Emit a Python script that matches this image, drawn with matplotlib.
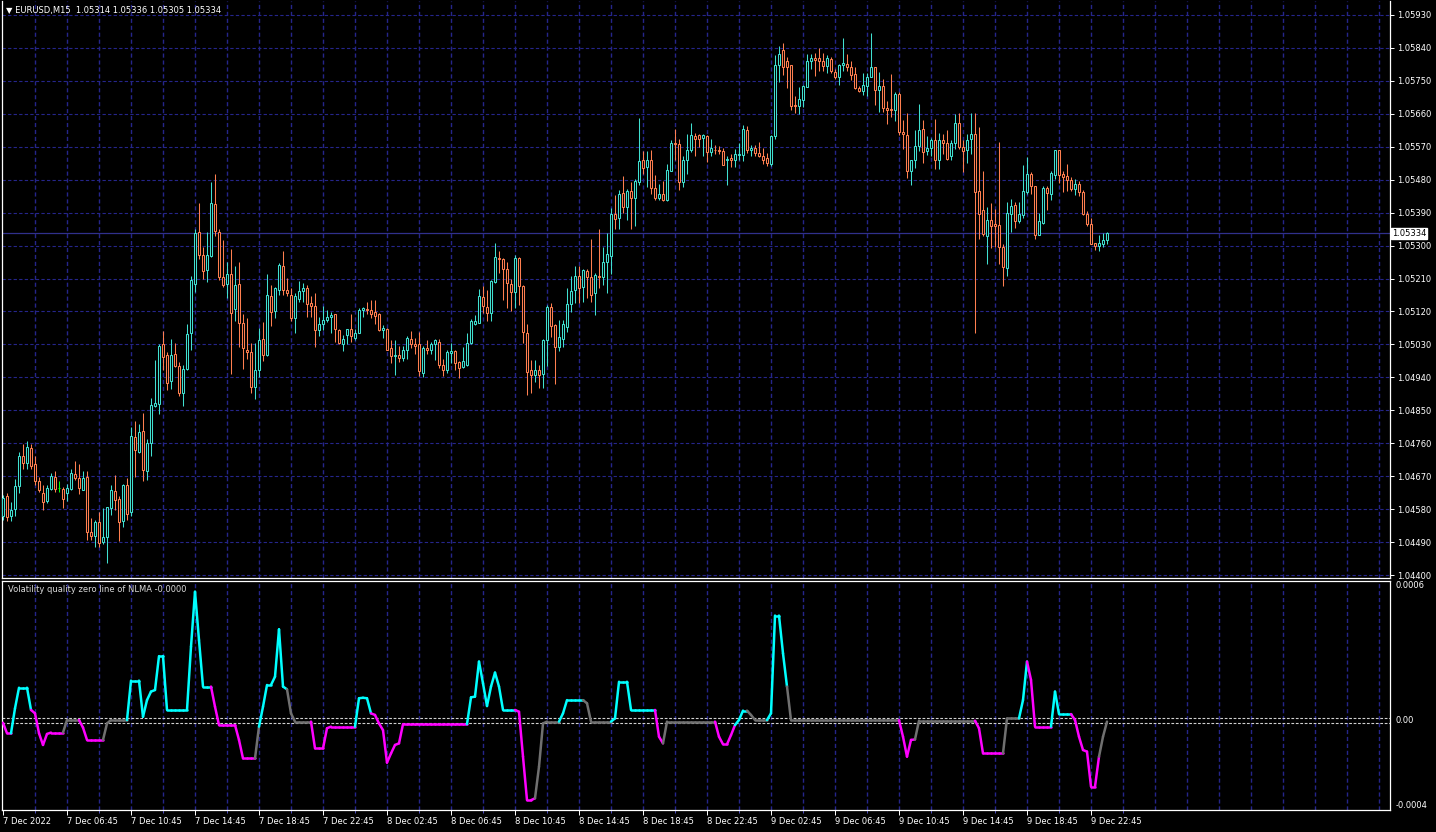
import matplotlib
matplotlib.use("Agg")
import matplotlib.pyplot as plt
import matplotlib.transforms as mtransforms
from matplotlib.collections import LineCollection

# EURUSD M15, 7 Dec 02:45 .. 9 Dec 23:45 (277 bars)
open_ = [1.04560, 1.04616, 1.04560, 1.04580, 1.04642, 1.04725, 1.04707, 1.04747, 1.04703, 1.04656,
         1.04624, 1.04601, 1.04635, 1.04667, 1.04637, 1.04635, 1.04623, 1.04635, 1.04675, 1.04664,
         1.04633, 1.04667, 1.04517, 1.04508, 1.04545, 1.04489, 1.04504, 1.04584, 1.04630, 1.04608,
         1.04549, 1.04646, 1.04571, 1.04776, 1.04737, 1.04794, 1.04683, 1.04760, 1.04862, 1.04868,
         1.05030, 1.05000, 1.04930, 1.05003, 1.04970, 1.04896, 1.04962, 1.05061, 1.05196, 1.05338,
         1.05273, 1.05234, 1.05271, 1.05414, 1.05338, 1.05215, 1.05194, 1.05221, 1.05126, 1.05195,
         1.05089, 1.05015, 1.05010, 1.04913, 1.04960, 1.05044, 1.05000, 1.05161, 1.05120, 1.05179,
         1.05245, 1.05179, 1.05165, 1.05102, 1.05155, 1.05175, 1.05185, 1.05143, 1.05136, 1.05070,
         1.05086, 1.05096, 1.05104, 1.05112, 1.05070, 1.05030, 1.05057, 1.05073, 1.05047, 1.05061,
         1.05124, 1.05127, 1.05124, 1.05118, 1.05112, 1.05070, 1.05073, 1.05021, 1.04998, 1.05002,
         1.04994, 1.05015, 1.05045, 1.05032, 1.05030, 1.04953, 1.05020, 1.05014, 1.05030, 1.05036,
         1.04975, 1.04961, 1.05006, 1.05011, 1.04982, 1.04968, 1.04975, 1.05035, 1.05086, 1.05088,
         1.05160, 1.05133, 1.05115, 1.05201, 1.05266, 1.05262, 1.05235, 1.05196, 1.05174, 1.05265,
         1.05190, 1.05060, 1.04960, 1.04946, 1.04960, 1.04949, 1.05042, 1.05133, 1.05083, 1.05022,
         1.05046, 1.05078, 1.05140, 1.05178, 1.05216, 1.05188, 1.05230, 1.05215, 1.05171, 1.05216,
         1.05213, 1.05254, 1.05272, 1.05385, 1.05376, 1.05444, 1.05405, 1.05448, 1.05430, 1.05473,
         1.05533, 1.05515, 1.05533, 1.05458, 1.05430, 1.05440, 1.05424, 1.05503, 1.05581, 1.05578,
         1.05474, 1.05533, 1.05560, 1.05598, 1.05601, 1.05594, 1.05598, 1.05555, 1.05562, 1.05562,
         1.05557, 1.05535, 1.05540, 1.05533, 1.05547, 1.05547, 1.05617, 1.05560, 1.05566, 1.05553,
         1.05546, 1.05539, 1.05524, 1.05598, 1.05794, 1.05833, 1.05805, 1.05792, 1.05685, 1.05681,
         1.05697, 1.05733, 1.05803, 1.05813, 1.05812, 1.05805, 1.05790, 1.05810, 1.05775, 1.05760,
         1.05792, 1.05796, 1.05787, 1.05769, 1.05731, 1.05722, 1.05737, 1.05760, 1.05789, 1.05726,
         1.05735, 1.05676, 1.05674, 1.05669, 1.05715, 1.05610, 1.05603, 1.05503, 1.05533, 1.05571,
         1.05619, 1.05557, 1.05566, 1.05587, 1.05533, 1.05587, 1.05581, 1.05545, 1.05581, 1.05635,
         1.05569, 1.05560, 1.05592, 1.05604, 1.05448, 1.05396, 1.05325, 1.05369, 1.05360, 1.05355,
         1.05296, 1.05238, 1.05387, 1.05410, 1.05367, 1.05383, 1.05446, 1.05495, 1.05462, 1.05328,
         1.05362, 1.05457, 1.05440, 1.05492, 1.05560, 1.05495, 1.05489, 1.05480, 1.05455, 1.05469,
         1.05445, 1.05387, 1.05360, 1.05308, 1.05298, 1.05305, 1.05314]
high = [1.04620, 1.04624, 1.04599, 1.04662, 1.04737, 1.04758, 1.04765, 1.04758, 1.04725, 1.04669,
        1.04645, 1.04646, 1.04680, 1.04683, 1.04657, 1.04641, 1.04649, 1.04689, 1.04712, 1.04704,
        1.04683, 1.04683, 1.04555, 1.04550, 1.04571, 1.04582, 1.04587, 1.04646, 1.04674, 1.04616,
        1.04649, 1.04665, 1.04804, 1.04820, 1.04813, 1.04842, 1.04772, 1.04884, 1.04988, 1.05032,
        1.05068, 1.05009, 1.05045, 1.05035, 1.04982, 1.04975, 1.05086, 1.05218, 1.05345, 1.05415,
        1.05295, 1.05336, 1.05473, 1.05495, 1.05345, 1.05316, 1.05255, 1.05291, 1.05245, 1.05256,
        1.05112, 1.05103, 1.05034, 1.05034, 1.05075, 1.05091, 1.05221, 1.05191, 1.05188, 1.05252,
        1.05286, 1.05212, 1.05185, 1.05171, 1.05202, 1.05197, 1.05191, 1.05161, 1.05170, 1.05106,
        1.05134, 1.05123, 1.05118, 1.05114, 1.05073, 1.05055, 1.05073, 1.05112, 1.05073, 1.05129,
        1.05132, 1.05145, 1.05150, 1.05152, 1.05115, 1.05082, 1.05075, 1.05041, 1.05043, 1.05025,
        1.05026, 1.05052, 1.05068, 1.05048, 1.05065, 1.05025, 1.05041, 1.05036, 1.05045, 1.05044,
        1.04991, 1.05014, 1.05034, 1.05016, 1.04986, 1.05023, 1.05061, 1.05100, 1.05109, 1.05181,
        1.05189, 1.05178, 1.05207, 1.05308, 1.05285, 1.05265, 1.05254, 1.05210, 1.05274, 1.05269,
        1.05192, 1.05085, 1.04987, 1.04987, 1.04974, 1.05046, 1.05137, 1.05142, 1.05085, 1.05096,
        1.05096, 1.05185, 1.05216, 1.05244, 1.05244, 1.05237, 1.05237, 1.05317, 1.05225, 1.05345,
        1.05296, 1.05333, 1.05403, 1.05437, 1.05451, 1.05489, 1.05455, 1.05474, 1.05481, 1.05649,
        1.05557, 1.05557, 1.05562, 1.05492, 1.05469, 1.05476, 1.05522, 1.05587, 1.05619, 1.05592,
        1.05545, 1.05605, 1.05635, 1.05608, 1.05605, 1.05605, 1.05601, 1.05590, 1.05576, 1.05571,
        1.05567, 1.05545, 1.05551, 1.05565, 1.05580, 1.05630, 1.05626, 1.05575, 1.05575, 1.05583,
        1.05566, 1.05553, 1.05601, 1.05821, 1.05846, 1.05854, 1.05815, 1.05792, 1.05708, 1.05733,
        1.05739, 1.05824, 1.05824, 1.05826, 1.05840, 1.05826, 1.05821, 1.05815, 1.05783, 1.05796,
        1.05867, 1.05824, 1.05803, 1.05787, 1.05737, 1.05772, 1.05772, 1.05881, 1.05789, 1.05774,
        1.05754, 1.05696, 1.05769, 1.05720, 1.05720, 1.05642, 1.05663, 1.05535, 1.05617, 1.05687,
        1.05642, 1.05598, 1.05594, 1.05645, 1.05608, 1.05605, 1.05617, 1.05589, 1.05660, 1.05663,
        1.05587, 1.05605, 1.05663, 1.05663, 1.05625, 1.05505, 1.05405, 1.05416, 1.05401, 1.05583,
        1.05305, 1.05419, 1.05426, 1.05419, 1.05419, 1.05519, 1.05542, 1.05501, 1.05462, 1.05389,
        1.05462, 1.05462, 1.05504, 1.05560, 1.05562, 1.05504, 1.05522, 1.05487, 1.05483, 1.05475,
        1.05451, 1.05394, 1.05374, 1.05308, 1.05328, 1.05333, 1.05336]
low = [1.04550, 1.04549, 1.04549, 1.04562, 1.04625, 1.04689, 1.04689, 1.04689, 1.04646, 1.04627,
       1.04578, 1.04596, 1.04633, 1.04628, 1.04628, 1.04584, 1.04601, 1.04633, 1.04660, 1.04622,
       1.04631, 1.04495, 1.04495, 1.04476, 1.04476, 1.04485, 1.04433, 1.04564, 1.04578, 1.04492,
       1.04531, 1.04551, 1.04562, 1.04669, 1.04733, 1.04658, 1.04660, 1.04725, 1.04859, 1.04840,
       1.04959, 1.04905, 1.04909, 1.04968, 1.04888, 1.04861, 1.04960, 1.05014, 1.05173, 1.05264,
       1.05209, 1.05200, 1.05270, 1.05327, 1.05206, 1.05186, 1.05157, 1.04950, 1.05095, 1.05023,
       1.04964, 1.04991, 1.04897, 1.04882, 1.04941, 1.04985, 1.04998, 1.05079, 1.05102, 1.05164,
       1.05164, 1.05161, 1.05095, 1.05061, 1.05145, 1.05145, 1.05105, 1.05105, 1.05023, 1.05052,
       1.05070, 1.05091, 1.05061, 1.05036, 1.05030, 1.05012, 1.05032, 1.05036, 1.05041, 1.05060,
       1.05104, 1.05114, 1.05103, 1.05086, 1.05068, 1.05048, 1.05014, 1.04979, 1.04946, 1.04982,
       1.04986, 1.04991, 1.05020, 1.05005, 1.04943, 1.04941, 1.05005, 1.05003, 1.04988, 1.04966,
       1.04945, 1.04952, 1.04979, 1.04959, 1.04939, 1.04966, 1.04970, 1.05032, 1.05082, 1.05088,
       1.05117, 1.05095, 1.05095, 1.05198, 1.05224, 1.05151, 1.05130, 1.05122, 1.05130, 1.05137,
       1.05035, 1.04892, 1.04898, 1.04928, 1.04910, 1.04910, 1.04971, 1.05051, 1.04922, 1.05013,
       1.05022, 1.05063, 1.05119, 1.05142, 1.05142, 1.05146, 1.05158, 1.05146, 1.05110, 1.05183,
       1.05192, 1.05171, 1.05222, 1.05346, 1.05346, 1.05389, 1.05371, 1.05344, 1.05353, 1.05465,
       1.05496, 1.05460, 1.05442, 1.05424, 1.05424, 1.05422, 1.05422, 1.05503, 1.05535, 1.05451,
       1.05460, 1.05495, 1.05555, 1.05546, 1.05569, 1.05546, 1.05528, 1.05546, 1.05550, 1.05550,
       1.05519, 1.05465, 1.05515, 1.05515, 1.05533, 1.05531, 1.05553, 1.05545, 1.05545, 1.05542,
       1.05524, 1.05516, 1.05516, 1.05590, 1.05748, 1.05766, 1.05730, 1.05669, 1.05663, 1.05660,
       1.05678, 1.05733, 1.05783, 1.05763, 1.05778, 1.05778, 1.05772, 1.05771, 1.05754, 1.05739,
       1.05778, 1.05776, 1.05751, 1.05728, 1.05719, 1.05710, 1.05708, 1.05760, 1.05685, 1.05666,
       1.05666, 1.05633, 1.05651, 1.05639, 1.05603, 1.05565, 1.05485, 1.05465, 1.05512, 1.05557,
       1.05526, 1.05548, 1.05546, 1.05510, 1.05510, 1.05551, 1.05535, 1.05535, 1.05565, 1.05565,
       1.05501, 1.05525, 1.05551, 1.05060, 1.05319, 1.05325, 1.05249, 1.05292, 1.05296, 1.05251,
       1.05189, 1.05216, 1.05337, 1.05349, 1.05362, 1.05374, 1.05442, 1.05440, 1.05319, 1.05328,
       1.05358, 1.05396, 1.05424, 1.05481, 1.05471, 1.05446, 1.05449, 1.05449, 1.05437, 1.05435,
       1.05383, 1.05354, 1.05304, 1.05287, 1.05285, 1.05296, 1.05305]
close = [1.04610, 1.04558, 1.04578, 1.04644, 1.04725, 1.04707, 1.04749, 1.04699, 1.04658, 1.04631,
         1.04599, 1.04637, 1.04671, 1.04635, 1.04637, 1.04608, 1.04637, 1.04680, 1.04664, 1.04639,
         1.04664, 1.04519, 1.04508, 1.04545, 1.04487, 1.04504, 1.04585, 1.04633, 1.04605, 1.04546,
         1.04646, 1.04567, 1.04780, 1.04742, 1.04792, 1.04687, 1.04762, 1.04864, 1.04871, 1.05027,
         1.04995, 1.04925, 1.05000, 1.04970, 1.04897, 1.04964, 1.05059, 1.05205, 1.05335, 1.05275,
         1.05230, 1.05273, 1.05416, 1.05339, 1.05214, 1.05193, 1.05223, 1.05115, 1.05191, 1.05088,
         1.05020, 1.05009, 1.04915, 1.04961, 1.05041, 1.05000, 1.05164, 1.05118, 1.05185, 1.05248,
         1.05180, 1.05170, 1.05102, 1.05161, 1.05175, 1.05184, 1.05141, 1.05135, 1.05070, 1.05086,
         1.05098, 1.05106, 1.05109, 1.05073, 1.05034, 1.05045, 1.05073, 1.05053, 1.05062, 1.05125,
         1.05129, 1.05124, 1.05114, 1.05108, 1.05070, 1.05075, 1.05016, 1.04998, 1.05002, 1.04994,
         1.05015, 1.05048, 1.05030, 1.05027, 1.04957, 1.05019, 1.05014, 1.05030, 1.05041, 1.04975,
         1.04961, 1.05008, 1.05011, 1.04979, 1.04965, 1.04984, 1.05035, 1.05093, 1.05093, 1.05162,
         1.05135, 1.05116, 1.05203, 1.05269, 1.05263, 1.05235, 1.05198, 1.05174, 1.05267, 1.05190,
         1.05063, 1.04955, 1.04946, 1.04960, 1.04946, 1.05042, 1.05131, 1.05081, 1.05022, 1.05049,
         1.05085, 1.05140, 1.05175, 1.05216, 1.05185, 1.05233, 1.05215, 1.05166, 1.05219, 1.05213,
         1.05254, 1.05278, 1.05385, 1.05372, 1.05442, 1.05405, 1.05449, 1.05431, 1.05475, 1.05530,
         1.05513, 1.05535, 1.05458, 1.05431, 1.05442, 1.05424, 1.05507, 1.05581, 1.05578, 1.05474,
         1.05533, 1.05562, 1.05601, 1.05590, 1.05592, 1.05601, 1.05555, 1.05567, 1.05560, 1.05557,
         1.05521, 1.05537, 1.05533, 1.05549, 1.05549, 1.05619, 1.05562, 1.05566, 1.05554, 1.05545,
         1.05533, 1.05525, 1.05598, 1.05794, 1.05824, 1.05787, 1.05787, 1.05681, 1.05680, 1.05699,
         1.05735, 1.05803, 1.05812, 1.05808, 1.05803, 1.05790, 1.05813, 1.05776, 1.05760, 1.05792,
         1.05799, 1.05787, 1.05767, 1.05730, 1.05722, 1.05739, 1.05760, 1.05789, 1.05726, 1.05735,
         1.05676, 1.05671, 1.05669, 1.05715, 1.05610, 1.05605, 1.05505, 1.05533, 1.05571, 1.05617,
         1.05555, 1.05566, 1.05587, 1.05533, 1.05589, 1.05581, 1.05537, 1.05581, 1.05635, 1.05569,
         1.05558, 1.05589, 1.05604, 1.05446, 1.05387, 1.05331, 1.05369, 1.05353, 1.05353, 1.05296,
         1.05242, 1.05390, 1.05407, 1.05367, 1.05385, 1.05448, 1.05496, 1.05463, 1.05328, 1.05366,
         1.05457, 1.05444, 1.05498, 1.05560, 1.05492, 1.05487, 1.05480, 1.05455, 1.05469, 1.05445,
         1.05385, 1.05360, 1.05305, 1.05299, 1.05307, 1.05315, 1.05334]

# indicator (units of 1e-5)
vq = [-0.9, -5.5, -5.5, 5.4, 14.4, 14.4, 14.4, 4.7, 3.2, -5.5,
      -10.6, -5.8, -5.2, -5.2, -5.2, -5.2, 0.3, 0.3, 0.3, 0.3,
      -3.0, -8.4, -8.4, -8.4, -8.4, -8.4, -1.2, 0.3, 0.3, 0.3,
      0.3, 0.3, 17.5, 17.5, 17.5, 1.7, 9.0, 12.7, 13.4, 28.2,
      28.2, 4.7, 4.7, 4.7, 4.7, 4.7, 4.7, 32.3, 56.3, 35.2,
      14.9, 14.9, 14.9, 6.1, -1.9, -1.9, -1.9, -1.9, -1.9, -8.4,
      -16.5, -16.5, -16.5, -16.5, -2.6, 6.1, 15.6, 15.6, 19.2, 39.9,
      14.9, 13.7, 3.2, -0.4, -0.4, -0.4, -0.4, -0.4, -12.1, -12.1,
      -12.1, -3.3, -2.6, -2.6, -2.6, -2.6, -2.6, -2.6, -2.6, 9.8,
      10.0, 9.8, 3.2, 2.5, -1.2, -4.1, -18.3, -14.3, -10.6, -9.9,
      -1.5, -1.5, -1.5, -1.5, -1.5, -1.5, -1.5, -1.5, -1.5, -1.5,
      -1.5, -1.5, -1.5, -1.5, -1.5, -1.5, -1.5, 10.2, 10.5, 25.8,
      16.3, 6.4, 14.9, 21.0, 14.9, 4.7, 4.7, 4.7, 4.7, 3.9,
      -15.7, -34.7, -34.7, -33.9, -20.1, -1.2, -0.4, -0.4, -0.4, -0.4,
      3.2, 9.0, 9.0, 9.0, 9.0, 9.0, 7.6, -0.4, -0.4, -0.4,
      -0.4, -0.4, -0.4, 1.0, 17.0, 17.0, 17.0, 4.7, 4.7, 4.7,
      4.7, 4.7, 4.7, 4.7, -7.0, -9.9, -0.4, -0.4, -0.4, -0.4,
      -0.4, -0.4, -0.4, -0.4, -0.4, -0.4, -0.4, -0.4, -0.4, -7.0,
      -10.3, -10.3, -6.3, -1.9, 0.3, 4.4, 4.4, 2.5, 0.3, 0.3,
      0.3, 0.3, 3.2, 45.9, 45.9, 29.4, 14.9, 0.2, 0.2, 0.2,
      0.2, 0.2, 0.2, 0.2, 0.2, 0.2, 0.2, 0.2, 0.2, 0.2,
      0.2, 0.2, 0.2, 0.2, 0.2, 0.2, 0.2, 0.2, 0.2, 0.2,
      0.2, 0.2, 0.2, 0.2, 0.2, -7.0, -15.7, -8.4, -8.2, 0.0,
      0.0, 0.0, 0.0, 0.0, 0.0, 0.0, 0.0, 0.0, 0.0, 0.0,
      0.0, 0.0, 0.0, 0.0, -3.3, -14.3, -14.3, -14.3, -14.3, -14.3,
      -14.3, 1.0, 1.0, 1.0, 1.0, 9.0, 25.8, 17.8, -2.6, -2.6,
      -2.6, -2.6, -2.6, 12.7, 2.9, 2.9, 2.9, 2.9, 0.3, -7.0,
      -12.8, -13.5, -28.8, -28.8, -15.7, -7.0, -0.4]
# colour state runs: c = up, m = down, n = neutral
vq_runs = [("m", 3), ("c", 5), ("m", 8), ("n", 4), ("m", 6), ("n", 6), ("c", 21),
           ("m", 11), ("n", 1), ("c", 7), ("n", 6), ("m", 11), ("c", 4), ("m", 24),
           ("c", 12), ("m", 5), ("n", 6), ("c", 6), ("n", 7), ("c", 11), ("m", 2),
           ("n", 13), ("m", 5), ("c", 3), ("n", 5), ("c", 5), ("n", 28), ("m", 4),
           ("n", 15), ("m", 7), ("n", 4), ("c", 2), ("m", 6), ("c", 5), ("m", 7), ("n", 2)]

time_labels = ["7 Dec 2022", "7 Dec 06:45", "7 Dec 10:45", "7 Dec 14:45", "7 Dec 18:45",
               "7 Dec 22:45", "8 Dec 02:45", "8 Dec 06:45", "8 Dec 10:45", "8 Dec 14:45",
               "8 Dec 18:45", "8 Dec 22:45", "9 Dec 02:45", "9 Dec 06:45", "9 Dec 10:45",
               "9 Dec 14:45", "9 Dec 18:45", "9 Dec 22:45"]
price_levels = [1.04400, 1.04490, 1.04580, 1.04670, 1.04760, 1.04850, 1.04940, 1.05030,
                1.05120, 1.05210, 1.05300, 1.05390, 1.05480, 1.05570, 1.05660, 1.05750,
                1.05840, 1.05930]
bid = 1.05334

W, H = 1436, 832
BULL, BEAR, DOJI = "#40e0d0", "#ff7f50", "#00ff00"
GRID = "#25258a"
state_col = {"c": "#00ffff", "m": "#ff00ff", "n": "#707070"}
plt.rcParams["font.family"] = "DejaVu Sans"

fig = plt.figure(figsize=(W / 100, H / 100), dpi=100, facecolor="black")
ax = fig.add_axes([2 / W, 1 - 578 / H, 1388 / W, 577 / H], facecolor="black")
ax2 = fig.add_axes([2 / W, 1 - 810 / H, 1388 / W, 229 / H], facecolor="black")

n = len(close)
xs = list(range(n))
xmax = 346.75

# ---- candles
cols = []
for o, c in zip(open_, close):
    cols.append(DOJI if o == c else (BULL if c > o else BEAR))
ax.vlines(xs, low, high, colors=cols, linewidth=0.75, zorder=3)
ax.bar(xs, [c - o for o, c in zip(open_, close)], bottom=open_, width=0.55,
       facecolor="black", edgecolor=cols, linewidth=0.75, zorder=4)

ax.axhline(bid, color="#30308c", linewidth=0.9, zorder=2)
for lv in price_levels:
    ax.axhline(lv, color=GRID, linewidth=0.8, linestyle=(0, (3, 2)), zorder=1)
for k in range(1, 44):
    ax.axvline(8 * k, color=GRID, linewidth=1.0, linestyle=(0, (3, 2)), zorder=1)
    ax2.axvline(8 * k, color=GRID, linewidth=1.0, linestyle=(0, (3, 2)), zorder=1)

ax.set_xlim(-0.25, xmax)
ax.set_ylim(1.04392, 1.05968)
ax.set_xticks([])
ax.yaxis.tick_right()
ax.set_yticks(price_levels)
ax.set_yticklabels(["%.5f" % v for v in price_levels])
ax.tick_params(axis="y", direction="out", length=3, width=0.7, color="white",
               labelcolor="white", labelsize=6, pad=2)

tr = mtransforms.blended_transform_factory(ax.transAxes, ax.transData)
ax.text(1.0015, bid, "%.5f" % bid, transform=tr, fontsize=6, color="black",
        va="center", ha="left", zorder=10,
        bbox=dict(boxstyle="square,pad=0.12", facecolor="white", edgecolor="white"))

for a in (ax, ax2):
    for side in a.spines:
        a.spines[side].set_color("white")
        a.spines[side].set_linewidth(0.9)
ax.spines["top"].set_visible(False)

# ---- indicator
states = []
for s, cnt in vq_runs:
    states += [s] * cnt
vals = [v * 1e-5 for v in vq]
segs, scol = [], []
for i in range(1, n):
    segs.append([(i - 1, vals[i - 1]), (i, vals[i])])
    scol.append(state_col[states[i]])
ax2.add_collection(LineCollection(segs, colors=scol, linewidths=1.8, zorder=3,
                                  capstyle="round", joinstyle="round"))
for lv in (1e-5, -1e-5):
    ax2.axhline(lv, color="#d0d0d0", linewidth=0.8, linestyle=(0, (2.5, 1.5)), zorder=2)

ax2.set_xlim(-0.25, xmax)
ax2.set_ylim(-0.00039, 0.00061)
ax2.set_yticks([])
ax2.set_xticks(list(range(0, 273, 16)))
ax2.set_xticklabels(time_labels)
ax2.set_xticks(list(range(8, 281, 16)), minor=True)
ax2.tick_params(axis="x", which="major", direction="out", length=3.5, width=0.7,
                color="white", labelcolor="white", labelsize=6, pad=1.5)
ax2.tick_params(axis="x", which="minor", direction="out", length=2, width=0.7,
                color="#5050c0")
for lab in ax2.get_xticklabels():
    lab.set_horizontalalignment("left")

tr2 = mtransforms.blended_transform_factory(ax2.transAxes, ax2.transData)
ax2.text(1.004, 0.00061, "0.0006", transform=tr2, fontsize=6, color="white", va="top", ha="left")
ax2.text(1.004, 0.0, "0.00", transform=tr2, fontsize=6, color="white", va="center", ha="left")
ax2.text(1.004, -0.00039, "-0.0004", transform=tr2, fontsize=6, color="white", va="bottom", ha="left")

fig.text(6 / W, 1 - 10 / H, "\u25bc EURUSD,M15  1.05314 1.05336 1.05305 1.05334",
         fontsize=6, color="white", va="center", ha="left")
fig.text(8 / W, 1 - 590 / H, "Volatility quality zero line of NLMA -0.0000",
         fontsize=6, color="#d8d8d8", va="center", ha="left")

fig.savefig("out.png", dpi=100, facecolor="black")
